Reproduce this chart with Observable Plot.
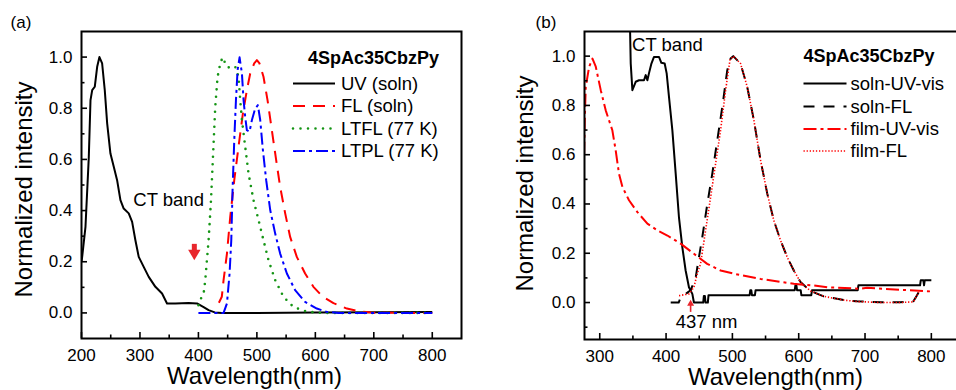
<!DOCTYPE html>
<html><head><meta charset="utf-8">
<script src="https://cdn.jsdelivr.net/npm/d3@7"></script>
<script src="https://cdn.jsdelivr.net/npm/@observablehq/plot@0.6"></script>
<style>
body{margin:0;background:#fff;}
#wrap{position:relative;width:956px;height:390px;overflow:hidden;background:#fff;}
</style></head><body><div id="wrap"></div>
<script>
// ---------- Panel (a) data ----------
const uvSolnA = [[200,0.20],[201.2,0.22],[206.8,0.336],[212.5,0.61],[215.4,0.832],[218.3,0.871],[222.7,0.884],[226.8,0.962],[230.7,1.0],[235.3,0.975],[239.8,0.871],[243.9,0.741],[249.5,0.623],[255.2,0.571],[260.9,0.519],[266.6,0.441],[272.2,0.408],[280.8,0.389],[286.6,0.356],[292.2,0.284],[297.9,0.219],[306.4,0.18],[315,0.141],[326.4,0.102],[337.8,0.076],[346.3,0.037],[360.5,0.037],[383.2,0.039],[397.6,0.037],[408.9,0.023],[417.4,0.011],[428,0.002],[440,0.0],[500,0.0],[600,0.002],[700,0.003],[800,0.004]];
const flSolnA = [[435,0.04],[440,0.063],[443,0.128],[448.8,0.232],[454.4,0.375],[461.3,0.519],[468.6,0.65],[476.1,0.78],[482.9,0.871],[488.6,0.936],[495.4,0.975],[500,0.988],[504.5,0.975],[511.3,0.923],[518.2,0.832],[525.6,0.714],[533,0.597],[539.8,0.493],[548.4,0.389],[556.9,0.297],[568.3,0.219],[582.5,0.154],[596.7,0.102],[612,0.065],[631,0.038],[654,0.017],[677,0.005],[700,0.001],[750,0],[800,0]];
const ltflA = [[400,0.03],[405,0.06],[408.9,0.076],[411.7,0.128],[417.4,0.284],[421.5,0.44],[424.9,0.61],[428.8,0.806],[432.8,0.923],[437.4,0.975],[441.3,0.999],[448.8,0.962],[457.3,0.956],[463,0.962],[468.6,0.923],[471.5,0.832],[474.4,0.754],[480,0.65],[485.7,0.545],[494.3,0.44],[502.8,0.363],[511.3,0.284],[519.9,0.206],[531.3,0.128],[545.5,0.063],[562.6,0.023],[585,0.005],[610,0],[700,0],[800,0]];
const ltplA = [[400,0],[443,0],[448.8,0.037],[453.3,0.154],[456.2,0.284],[458.4,0.48],[461.3,0.675],[464.2,0.832],[467,0.949],[470.4,0.999],[474.4,0.936],[477.2,0.832],[480,0.767],[482.9,0.714],[487.4,0.708],[491.5,0.754],[497.1,0.799],[501.7,0.812],[505.7,0.754],[510.3,0.636],[515.9,0.519],[522.8,0.402],[531.3,0.31],[539.8,0.232],[551.3,0.154],[565.4,0.089],[582.5,0.043],[602.5,0.017],[619.6,0.004],[640,0],[800,0]];

// ---------- Panel (b) data ----------
const solnUvB = [[343,1.3],[345.7,1.106],[346.7,0.97],[349.2,0.862],[354.2,0.896],[359.2,0.902],[366.7,0.902],[369.3,0.923],[371.8,0.902],[374.2,0.93],[377.9,0.97],[381.8,0.997],[389.3,0.997],[392.9,0.973],[397.9,0.97],[400.9,0.93],[404.4,0.835],[409.5,0.699],[414.5,0.523],[419.4,0.347],[424.5,0.225],[429.5,0.13],[434.5,0.062],[439.6,0.035],[442,0.0],[456,0.0],[457,0.027],[458.5,0.027],[459.5,0.0],[463,0.0],[464,0.03],[526,0.03],[527,0.05],[528.5,0.05],[529.5,0.03],[534,0.03],[535,0.05],[594,0.05],[595,0.07],[596.5,0.07],[597.5,0.05],[603,0.05],[604,0.03],[619,0.03],[620,0.05],[689,0.05],[690,0.07],[783,0.07],[784,0.09],[788,0.09],[789,0.07],[790,0.09],[800,0.09]];
const solnFlB = [[407,0],[419,0],[422,0.02],[437,0.05],[444.6,0.1],[449.6,0.184],[454.6,0.265],[462.2,0.4],[469.7,0.523],[477.3,0.66],[484.8,0.794],[492.3,0.943],[497.3,0.99],[501.3,1.0],[512.3,0.97],[522.4,0.875],[532.4,0.74],[542.5,0.577],[552.6,0.442],[562.5,0.333],[572.6,0.252],[582.7,0.184],[592.6,0.13],[602.7,0.083],[617.8,0.047],[637.8,0.025],[667.9,0.01],[688,0.005],[724,0.001],[753,0.001],[773,0.005],[778,0.028],[781,0.042]];
const filmUvB = [[276.4,0.6],[277.5,0.75],[278.9,0.875],[284,0.957],[289,0.99],[294,0.957],[301.5,0.862],[309,0.78],[319,0.699],[324,0.618],[329,0.523],[334.2,0.469],[344.1,0.415],[356.8,0.367],[371.8,0.32],[386.9,0.293],[402,0.272],[422,0.239],[442,0.198],[462,0.157],[482.2,0.13],[502.3,0.117],[542.5,0.096],[592.6,0.076],[622.8,0.069],[643,0.062],[693,0.056],[703,0.06],[753,0.052],[800,0.045]];
const filmFlB = [[419.5,0.028],[434.5,0.035],[442,0.062],[447,0.117],[452,0.157],[459.6,0.293],[467.2,0.428],[474.7,0.564],[482.2,0.699],[489.8,0.862],[496.3,0.984],[501.3,1.0],[512.3,0.97],[522.4,0.875],[532.4,0.74],[542.5,0.577],[552.6,0.442],[562.5,0.333],[572.6,0.252],[582.7,0.184],[592.6,0.13],[602.7,0.083],[617.8,0.047],[637.8,0.025],[667.9,0.01],[688,0.004],[724,0.0],[753,0.0],[773,0.003],[778,0.028],[781,0.042]];

// ---------- ticks ----------
const xMajorA = [200,300,400,500,600,700,800];
const xMinorA = [250,350,450,550,650,750];
const xMajorB = [300,400,500,600,700,800];
const xMinorB = [350,450,550,650,750];
const yMajor = [0,0.2,0.4,0.6,0.8,1.0];
const yMinorA = [0.1,0.3,0.5,0.7,0.9];
const yMinorB = [-0.1,0.1,0.3,0.5,0.7,0.9];

// ---------- legends / annotations ----------
const compound = "4SpAc35CbzPy";
const namesA = ["UV (soln)","FL (soln)","LTFL (77 K)","LTPL (77 K)"];
const namesB = ["soln-UV-vis","soln-FL","film-UV-vis","film-FL"];
const ctBandA = {x: 349, y: 0.44, text: "CT band"};
const ctBandB = {x: 402, y: 1.043, text: "CT band"};
const nm437 = {x: 461, y: -0.08, text: "437 nm"};
const arrowA = [{x: 393, y1: 0.268, y2: 0.235, tip: 0.206}];
const arrowB = [{x: 437, y1: -0.04, y2: 0.0, tip: 0.011}];

const FONT = '"Liberation Sans", Arial, sans-serif';
const RED = "#ff0000", GREEN = "#149414", BLUE = "#0000ff", BLACK = "#000";
const stylesA = [
  {data: uvSolnA, color: BLACK, width: 2, dash: null, cap: "butt"},
  {data: flSolnA, color: RED, width: 2, dash: "12,8", cap: "butt"},
  {data: ltflA, color: GREEN, width: 2.6, dash: "0,7.5", cap: "round"},
  {data: ltplA, color: BLUE, width: 2, dash: "12,4,3,4", cap: "butt"}
];
const stylesB = [
  {data: solnUvB, color: BLACK, width: 2, dash: null, cap: "butt"},
  {data: solnFlB, color: BLACK, width: 2, dash: "11,9", cap: "butt"},
  {data: filmUvB, color: RED, width: 2, dash: "13,4,3,4", cap: "butt"},
  {data: filmFlB, color: RED, width: 1.6, dash: "1.3,1.8", cap: "butt"}
];

function makePanel(cfg) {
  const plotW = cfg.width - cfg.ml - cfg.mr;
  const plotH = 390 - cfg.mt - cfg.mb;
  const svg = Plot.plot({
    width: cfg.width, height: 390,
    marginLeft: cfg.ml, marginRight: cfg.mr, marginTop: cfg.mt, marginBottom: cfg.mb,
    style: {fontFamily: FONT, fontSize: "17px", color: "black", background: "transparent", overflow: "visible"},
    x: {domain: cfg.xDomain},
    y: {domain: cfg.yDomain},
    marks: [
      ...cfg.series.map(s => Plot.line(s.data, {x: d => d[0], y: d => d[1], stroke: s.color, strokeWidth: s.width, strokeDasharray: s.dash, strokeLinecap: s.cap, strokeLinejoin: "round", clip: true})),
      Plot.tickX(cfg.xMajor, {x: d => d, insetTop: plotH - 6, strokeWidth: 1.6}),
      Plot.tickX(cfg.xMinor, {x: d => d, insetTop: plotH - 3.5, strokeWidth: 1.6}),
      Plot.tickY(yMajor, {y: d => d, insetRight: plotW - 6, strokeWidth: 1.6}),
      Plot.tickY(cfg.yMinor, {y: d => d, insetRight: plotW - 3.5, strokeWidth: 1.6}),
      Plot.axisX(cfg.xMajor, {tickSize: 0, tickPadding: 10, fontSize: 17, label: null}),
      Plot.axisY(yMajor, {tickSize: 0, tickPadding: 9, fontSize: 17, tickFormat: d3.format(".1f"), label: null}),
      Plot.frame({stroke: "black", strokeWidth: 2}),
      Plot.text(["Wavelength(nm)"], {frameAnchor: "bottom", textAnchor: "middle", lineAnchor: "middle", dx: cfg.xlabDx, dy: 38, fontSize: 24}),
      Plot.text(["Normalized intensity"], {frameAnchor: "left", textAnchor: "middle", lineAnchor: "middle", rotate: -90, dx: cfg.ylabDx, dy: cfg.ylabDy, fontSize: 24}),
      Plot.text([cfg.panel], {frameAnchor: "top-left", textAnchor: "middle", lineAnchor: "middle", dx: cfg.panelDx, dy: -9, fontSize: 17}),
      ...cfg.extra
    ]
  });
  svg.style.position = "absolute";
  svg.style.left = cfg.left + "px";
  svg.style.top = "0px";
  // legend
  const g = d3.select(svg).append("g").attr("font-family", FONT).attr("text-anchor", "start");
  g.append("text").attr("x", cfg.leg.titleX).attr("y", cfg.leg.titleY).attr("dy", "0.35em")
    .attr("text-anchor", "start")
    .attr("font-size", 18).attr("font-weight", "bold").attr("fill", "black").text(compound);
  cfg.series.forEach((s, i) => {
    const y = cfg.leg.rows[i];
    g.append("line").attr("x1", cfg.leg.x0).attr("x2", cfg.leg.x1).attr("y1", y).attr("y2", y)
      .attr("stroke", s.color).attr("stroke-width", s.width)
      .attr("stroke-dasharray", s.dash).attr("stroke-linecap", s.cap);
    g.append("text").attr("x", cfg.leg.tx).attr("y", y).attr("dy", "0.35em")
      .attr("text-anchor", "start")
      .attr("font-size", 18.5).attr("fill", "black").text(cfg.names[i]);
  });
  return svg;
}

const wrap = document.getElementById("wrap");

const arrowRed = "#e8262c";
wrap.appendChild(makePanel({
  left: 0, width: 478, ml: 81, mr: 17, mt: 31, mb: 52,
  xDomain: [200, 850], yDomain: [-0.1, 1.1],
  series: stylesA, names: namesA,
  xMajor: xMajorA, xMinor: xMinorA, yMinor: yMinorA,
  xlabDx: -17, ylabDx: -57, ylabDy: 4.5, panelDx: -60.5, panel: "(a)",
  leg: {titleX: 308, titleY: 57.5, x0: 293, x1: 335, tx: 341, rows: [83.5, 106, 128.5, 151]},
  extra: [
    Plot.text([ctBandA], {x: "x", y: "y", text: "text", fontSize: 18.5}),
    Plot.ruleX(arrowA, {x: "x", y1: "y1", y2: "y2", stroke: arrowRed, strokeWidth: 5}),
    Plot.dot(arrowA, {x: "x", y: "tip", symbol: "triangle", r: 4.6, rotate: 180, dy: -7, fill: arrowRed, stroke: "none"})
  ]
}));

wrap.appendChild(makePanel({
  left: 478, width: 496, ml: 106, mr: 10, mt: 31, mb: 51,
  xDomain: [277, 850], yDomain: [-0.15, 1.1],
  series: stylesB, names: namesB,
  xMajor: xMajorB, xMinor: xMinorB, yMinor: yMinorB,
  xlabDx: 1, ylabDx: -59.5, ylabDy: -2, panelDx: -38.5, panel: "(b)",
  leg: {titleX: 325.5, titleY: 55.5, x0: 325.5, x1: 368.5, tx: 372.5, rows: [83.5, 106.5, 129, 151]},
  extra: [
    Plot.text([ctBandB], {x: "x", y: "y", text: "text", fontSize: 18.5}),
    Plot.text([nm437], {x: "x", y: "y", text: "text", fontSize: 18.5}),
    Plot.ruleX(arrowB, {x: "x", y1: "y1", y2: "y2", stroke: arrowRed, strokeWidth: 1.6}),
    Plot.dot(arrowB, {x: "x", y: "tip", symbol: "triangle", r: 2.6, dy: 4, fill: arrowRed, stroke: "none"})
  ]
}));
</script>
</body></html>
